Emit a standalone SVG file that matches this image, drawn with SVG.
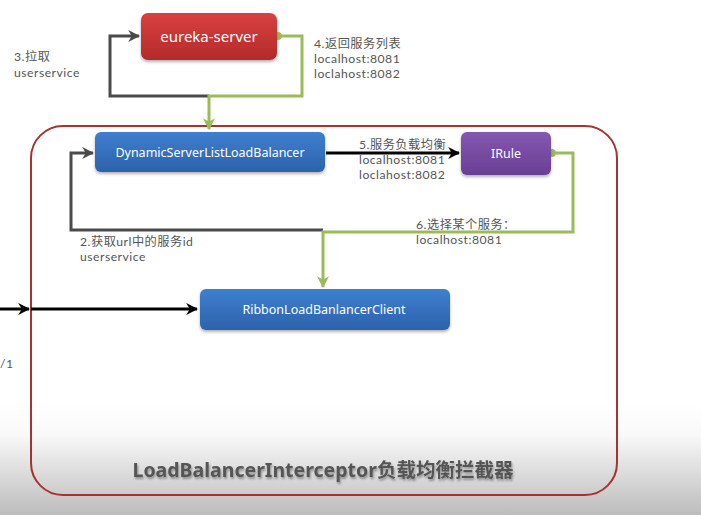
<svg xmlns="http://www.w3.org/2000/svg" width="701" height="515" viewBox="0 0 701 515">
<defs>
<linearGradient id="bg" x1="0" y1="0" x2="0" y2="1">
<stop offset="0" stop-color="#ffffff"/>
<stop offset="0.3" stop-color="#f9f9f9"/>
<stop offset="1" stop-color="#bcbcbc"/>
</linearGradient>
<linearGradient id="red" x1="0" y1="0" x2="0" y2="1">
<stop offset="0" stop-color="#d8413f"/>
<stop offset="1" stop-color="#b32a2a"/>
</linearGradient>
<linearGradient id="blue" x1="0" y1="0" x2="0" y2="1">
<stop offset="0" stop-color="#3f7fd0"/>
<stop offset="1" stop-color="#2c62ab"/>
</linearGradient>
<linearGradient id="purple" x1="0" y1="0" x2="0" y2="1">
<stop offset="0" stop-color="#8457b0"/>
<stop offset="1" stop-color="#6a3f95"/>
</linearGradient>
<filter id="sh" x="-10%" y="-20%" width="120%" height="150%">
<feDropShadow dx="0" dy="2" stdDeviation="1.5" flood-color="#000" flood-opacity="0.3"/>
</filter>
<filter id="tsh" x="-5%" y="-30%" width="110%" height="160%">
<feDropShadow dx="1" dy="2" stdDeviation="1.2" flood-color="#000" flood-opacity="0.35"/>
</filter>
<marker id="ad" viewBox="0 0 10 10" refX="9" refY="5" markerWidth="4" markerHeight="4" orient="auto" markerUnits="strokeWidth">
<path d="M0,0 L10,5 L0,10 L3,5 z" fill="#4a4a4a"/>
</marker>
<marker id="ab" viewBox="0 0 10 10" refX="9" refY="5" markerWidth="4" markerHeight="4" orient="auto" markerUnits="strokeWidth">
<path d="M0,0 L10,5 L0,10 L3,5 z" fill="#000"/>
</marker>
<marker id="ag" viewBox="0 0 10 10" refX="9" refY="5" markerWidth="4" markerHeight="4" orient="auto" markerUnits="strokeWidth">
<path d="M0,0 L10,5 L0,10 L3,5 z" fill="#9bbb59"/>
</marker>
<marker id="dot" viewBox="0 0 10 10" refX="5" refY="5" markerWidth="2.6" markerHeight="2.6" orient="auto" markerUnits="strokeWidth">
<circle cx="5" cy="5" r="5" fill="#9bbb59"/>
</marker>
</defs>
<style>
.lbl{font-family:Lato,"Noto Sans CJK SC",sans-serif;font-size:12.2px;letter-spacing:0.5px;fill:#555}
.nt{font-family:"Noto Sans","Noto Sans CJK SC",sans-serif;fill:#fff;text-anchor:middle;dominant-baseline:central}
.dk{fill:none;stroke:#4a4a4a;stroke-width:3}
.bk{fill:none;stroke:#000;stroke-width:3}
.gr{fill:none;stroke:#9bbb59;stroke-width:3}
</style>
<rect x="0" y="0" width="701" height="515" fill="#fff"/>
<rect x="0" y="400" width="701" height="115" fill="url(#bg)"/>

<g id="container">
<rect x="31" y="126" width="586" height="369" rx="32" fill="none" stroke="#a83232" stroke-width="2"/>
<text x="323" y="477" font-family="'Noto Sans','Noto Sans CJK SC',sans-serif" font-size="19.5" font-weight="bold" fill="#555" text-anchor="middle" filter="url(#tsh)">LoadBalancerInterceptor负载均衡拦截器</text>
</g>

<g id="connectors">
<path class="dk" d="M209,96 H110 V36 H139" marker-end="url(#ad)"/>
<path class="gr" d="M278,36 H302 V96 H209 V129" marker-start="url(#dot)" marker-end="url(#ag)"/>
<path class="dk" d="M323,230 H71 V153 H93" marker-end="url(#ad)"/>
<path class="bk" d="M326,153 H459" marker-end="url(#ab)"/>
<path class="gr" d="M552,153 H573 V232 H323 V287" marker-start="url(#dot)" marker-end="url(#ag)"/>
<path class="bk" d="M0,309 H29" marker-end="url(#ab)"/>
<path class="bk" d="M31,309 H197" marker-end="url(#ab)"/>
</g>

<g id="labels">
<text class="lbl" x="14" y="61">3.拉取</text>
<text class="lbl" x="14" y="77">userservice</text>
<text class="lbl" x="314" y="48">4.返回服务列表</text>
<text class="lbl" x="314" y="63">localhost:8081</text>
<text class="lbl" x="314" y="78">loclahost:8082</text>
<text class="lbl" x="359" y="149">5.服务负载均衡</text>
<text class="lbl" x="359" y="164">localhost:8081</text>
<text class="lbl" x="359" y="179">loclahost:8082</text>
<text class="lbl" x="416" y="229">6.选择某个服务：</text>
<text class="lbl" x="416" y="244">localhost:8081</text>
<text class="lbl" x="80" y="246">2.获取url中的服务id</text>
<text class="lbl" x="80" y="261">userservice</text>
<text class="lbl" x="0" y="368">/1</text>
</g>

<g id="eureka-server">
<rect x="141" y="13" width="136" height="47" rx="7" fill="url(#red)" filter="url(#sh)"/>
<text class="nt" x="209" y="36" font-size="15">eureka-server</text>
</g>

<g id="dynamic-server-list-load-balancer">
<rect x="95" y="132" width="230" height="40" rx="6" fill="url(#blue)" filter="url(#sh)"/>
<text class="nt" x="210" y="152" font-size="12.5">DynamicServerListLoadBalancer</text>
</g>

<g id="irule">
<rect x="461" y="132" width="90" height="43" rx="6" fill="url(#purple)" filter="url(#sh)"/>
<text class="nt" x="506" y="153" font-size="12.5">IRule</text>
</g>

<g id="ribbon-load-balancer-client">
<rect x="200" y="289" width="250" height="41" rx="6" fill="url(#blue)" filter="url(#sh)"/>
<text class="nt" x="324" y="309" font-size="12.5">RibbonLoadBanlancerClient</text>
</g>
</svg>
